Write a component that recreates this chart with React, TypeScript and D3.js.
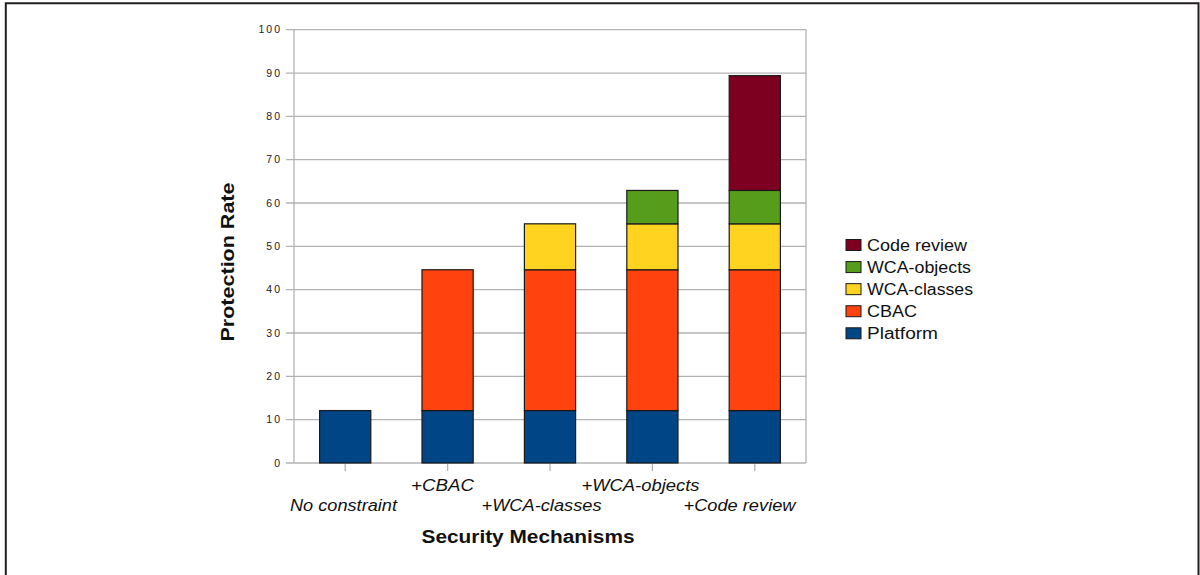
import React from "react";
import * as d3 from "d3";

const categories = ["No constraint", "+CBAC", "+WCA-classes", "+WCA-objects", "+Code review"];
const seriesNames = ["Platform", "CBAC", "WCA-classes", "WCA-objects", "Code review"];
const platform = [12.1, 12.1, 12.1, 12.1, 12.1];
const cbac = [0, 32.5, 32.5, 32.5, 32.5];
const wcaClasses = [0, 0, 10.6, 10.6, 10.6];
const wcaObjects = [0, 0, 0, 7.7, 7.7];
const codeReview = [0, 0, 0, 0, 26.5];
const yTicks = [0, 10, 20, 30, 40, 50, 60, 70, 80, 90, 100];
const colors = ["#004586", "#ff420e", "#ffd320", "#579d1c", "#7e0021"];

const W = 1200;
const H = 575;
const plot = { left: 294, right: 806, top: 29.7, bottom: 463 };
const FONT = "'Liberation Sans', Arial, sans-serif";

export default function App() {
  const seriesVals = [platform, cbac, wcaClasses, wcaObjects, codeReview];
  const rows = categories.map((c, i) => {
    const r: any = { cat: c };
    seriesNames.forEach((s, k) => (r[s] = seriesVals[k][i]));
    return r;
  });
  const stack = d3.stack<any>().keys(seriesNames)(rows);

  const x = d3
    .scaleBand<string>()
    .domain(categories)
    .range([plot.left, plot.right])
    .paddingInner(0.5)
    .paddingOuter(0.25);
  const xLabel = x.copy().range([plot.left, plot.left + 495]);
  const y = d3.scaleLinear().domain([0, 100]).range([plot.bottom, plot.top]);

  const legendOrder = [...seriesNames].reverse();
  const legendY = d3
    .scalePoint<string>()
    .domain(legendOrder)
    .range([245, 333.3]);
  const legendLen: Record<string, number> = {
    "Code review": 100,
    "WCA-objects": 104,
    "WCA-classes": 106,
    CBAC: 50,
    Platform: 71,
  };

  return (
    <svg
      width={W}
      height={H}
      style={{ position: "absolute", left: 0, top: 0, background: "#fff" }}
      fontFamily={FONT}
    >
      {/* frame */}
      <path d={`M5.8,${H + 5} V3.3 H1198.5 V${H + 5}`} fill="none" stroke="#231f20" strokeWidth={2} />

      {/* grid + y ticks */}
      {yTicks.map((t) => (
        <g key={t}>
          <line x1={plot.left - 8} x2={plot.right} y1={y(t)} y2={y(t)} stroke="#b3b3b3" strokeWidth={1.3} />
          <text
            x={282}
            y={y(t)}
            dy="0.35em"
            textAnchor="end"
            fontSize={10.5}
            letterSpacing={2}
            fill="#222"
          >
            {t}
          </text>
        </g>
      ))}
      {/* axis lines */}
      <line x1={plot.left} x2={plot.left} y1={plot.top} y2={plot.bottom} stroke="#b3b3b3" strokeWidth={1.3} />
      <line x1={plot.right} x2={plot.right} y1={plot.top} y2={plot.bottom} stroke="#b3b3b3" strokeWidth={1.3} />

      {/* x ticks */}
      {categories.map((c) => (
        <line
          key={c}
          x1={x(c)! + x.bandwidth() / 2}
          x2={x(c)! + x.bandwidth() / 2}
          y1={plot.bottom}
          y2={plot.bottom + 8}
          stroke="#b3b3b3"
          strokeWidth={1.3}
        />
      ))}

      {/* bars */}
      {stack.map((layer, k) => (
        <g key={layer.key} fill={colors[k]}>
          {layer.map((d, i) =>
            d[1] - d[0] > 0 ? (
              <rect
                key={i}
                x={x(categories[i])}
                width={x.bandwidth()}
                y={y(d[1])}
                height={y(d[0]) - y(d[1])}
                stroke="#1a1a1a"
                strokeWidth={1.2}
              />
            ) : null
          )}
        </g>
      ))}

      {/* x labels (staggered) */}
      {categories.map((c, i) => (
        <text
          key={c}
          x={xLabel(c)! + xLabel.bandwidth() / 2}
          y={i % 2 === 0 ? 511 : 491}
          textAnchor="middle"
          fontStyle="italic"
          fontSize={16}
          fill="#111"
          textLength={[107, 63, 120, 118, 112][i]}
          lengthAdjust="spacingAndGlyphs"
        >
          {c}
        </text>
      ))}

      {/* axis titles */}
      <text
        x={528}
        y={543}
        textAnchor="middle"
        fontWeight="bold"
        fontSize={17.5}
        fill="#111"
        textLength={213}
        lengthAdjust="spacingAndGlyphs"
      >
        Security Mechanisms
      </text>
      <text
        transform="translate(234,262) rotate(-90)"
        textAnchor="middle"
        fontWeight="bold"
        fontSize={17.5}
        fill="#111"
        textLength={159}
        lengthAdjust="spacingAndGlyphs"
      >
        Protection Rate
      </text>

      {/* legend */}
      {legendOrder.map((s) => {
        const k = seriesNames.indexOf(s);
        const cy = legendY(s)!;
        return (
          <g key={s}>
            <rect x={846} y={cy - 5.5} width={15} height={11} fill={colors[k]} stroke="#1a1a1a" strokeWidth={1} />
            <text
              x={867}
              y={cy}
              dy="0.36em"
              fontSize={16}
              fill="#111"
              textLength={legendLen[s]}
              lengthAdjust="spacingAndGlyphs"
            >
              {s}
            </text>
          </g>
        );
      })}
    </svg>
  );
}
